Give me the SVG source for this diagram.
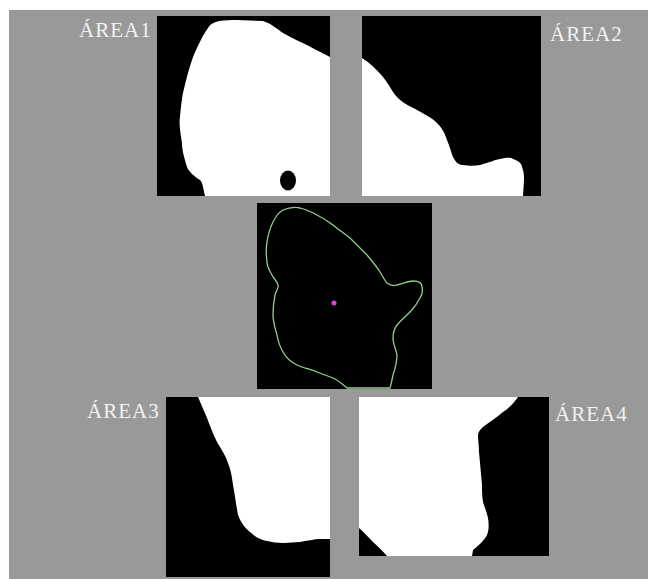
<svg xmlns="http://www.w3.org/2000/svg" width="648" height="579" viewBox="0 0 648 579">
<style>
.lbl{font-family:"Liberation Serif","Times New Roman",serif;font-size:21px;fill:#f2f2f2;letter-spacing:1px}
.pan{fill:#000}
.wh{fill:#fff}
</style>
<rect x="0" y="0" width="648" height="579" fill="#fff"/>
<rect x="9" y="10" width="639" height="569" fill="#999999"/>
<g id="area1">
<rect class="pan" x="157" y="16" width="173" height="180"/>
<path class="wh" d="M208,28 C212,20 225,20 237,20 L263,21 C272,24 277,29 283,33 C292,38 300,42 307,45 C316,50 323,53 330,57 L330,196 L205,196 C203,188 203,183 200,180 C192,175 188,170 187,167 C184,157 182,150 182,143 C180,130 179,123 180,117 C181,105 182,98 183,93 C186,80 189,68 193,57 C198,45 203,35 208,28 Z"/>
<ellipse class="pan" cx="288" cy="180.5" rx="8" ry="10"/>
<text class="lbl" x="79" y="37">ÁREA1</text>
</g>
<g id="area2">
<rect class="pan" x="362" y="16" width="179" height="180"/>
<path class="wh" d="M362,58 C370,63 377,70 383,77 C389,84 392,92 397,97 C404,104 410,106 417,110 C426,115 432,118 437,123 C443,129 445,134 447,140 C450,147 451,152 453,157 C456,163 459,165 463,165 C470,166 475,166 480,165 C488,163 494,160 500,159 C506,158 510,157 513,159 C519,161 522,164 522,167 C524,172 524,176 524,180 L523,196 L362,196 Z"/>
<text class="lbl" x="550" y="41">ÁREA2</text>
</g>
<g id="center">
<rect class="pan" x="257" y="203" width="175" height="186"/>
<path fill="none" stroke="#8fd08f" stroke-width="1.3" d="M283,210 C290,207 296,207 300,208 C307,210 312,212 317,215 C323,218 328,221 333,225 C339,230 345,234 350,238 C356,244 362,250 367,255 C372,261 377,267 380,272 C383,277 385,281 387,283 C391,286 394,286 397,285 C403,284 408,281 413,281 C418,281 422,283 422,287 C423,291 422,295 420,298 C417,304 414,308 410,312 C405,317 400,321 397,325 C394,329 393,334 393,338 C393,344 396,349 397,355 C397,362 395,369 393,375 C392,380 391,385 390,388 L347,388 C342,384 338,380 333,378 C328,376 322,374 317,372 C310,369 303,368 297,365 C291,362 286,358 283,352 C280,347 278,341 277,335 C275,328 273,322 273,315 C273,308 274,300 275,295 C276,291 279,288 278,285 C277,281 274,279 272,275 C269,270 267,266 267,262 C266,255 266,248 267,242 C268,235 270,228 273,222 C276,216 279,212 283,210 Z"/>
<circle cx="334" cy="303" r="2.5" fill="#e040e0"/>
</g>
<g id="area3">
<rect class="pan" x="166" y="397" width="164" height="180"/>
<path class="wh" d="M198,397 C201,404 204,411 207,418 C210,426 213,434 217,442 C221,449 226,456 228,463 C231,470 232,478 233,485 C235,495 236,505 238,515 C241,523 245,528 250,532 C255,537 261,540 267,541 C272,542 278,543 283,543 C289,543 295,542 300,542 C307,541 314,539 320,539 L330,539 L330,397 Z"/>
<text class="lbl" x="87" y="418">ÁREA3</text>
</g>
<g id="area4">
<rect class="pan" x="359" y="397" width="190" height="159"/>
<path class="wh" d="M359,397 L518,397 C514,403 509,408 503,412 C496,418 489,422 483,427 C480,430 478,432 478,435 C478,441 479,446 479,452 C480,463 481,474 482,485 C482,491 482,496 483,502 C485,508 487,513 488,518 C489,524 489,530 487,535 C484,541 478,546 473,550 L472,556 L387,556 C383,551 378,547 373,542 C368,537 364,532 359,528 Z"/>
<text class="lbl" x="555" y="421">ÁREA4</text>
</g>
<g id="connectors"/>
</svg>
